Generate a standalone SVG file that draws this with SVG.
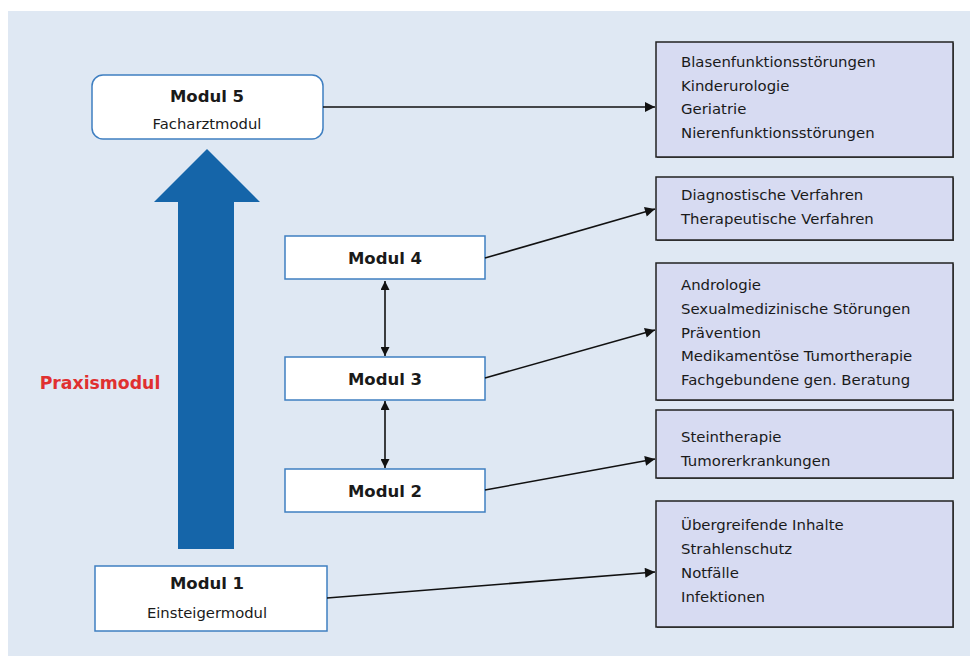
<svg xmlns="http://www.w3.org/2000/svg" width="970" height="656" viewBox="0 0 970 656">
<style>
.bg{fill:#dfe8f3}
.mod{fill:#ffffff;stroke:#3f7fc1;stroke-width:1.5}
.box{fill:#d7dbf2;stroke:#222;stroke-width:1.5}
.shadow{fill:#555}
.t{font-family:"DejaVu Sans",Verdana,sans-serif;fill:#1a1a1a}
.b{font-weight:bold;font-size:16.5px}
.s{font-size:14.8px}
.l{font-size:14.9px}
.con{stroke:#111;stroke-width:1.6;fill:none}
</style>
<defs>
<marker id="ah" viewBox="0 0 10 10" refX="10" refY="5" markerWidth="14" markerHeight="9" markerUnits="userSpaceOnUse" orient="auto-start-reverse">
<path d="M0,0 L10,5 L0,10 z" fill="#111"/>
</marker>
<marker id="ah2" viewBox="0 0 10 10" refX="10" refY="5" markerWidth="17" markerHeight="10" markerUnits="userSpaceOnUse" orient="auto-start-reverse">
<path d="M0,0 L10,5 L0,10 z" fill="#111"/>
</marker>
</defs>
<rect class="bg" x="8" y="11" width="962" height="645"/>
<g id="praxis-arrow">
<polygon points="178,549 234,549 234,202 260,202 207,149 154,202 178,202" fill="#1565a9"/>
<text class="t" x="100" y="389" text-anchor="middle" font-size="17.3" font-weight="bold" style="fill:#e03030">Praxismodul</text>
</g>
<g id="modul5">
<rect class="mod" x="92" y="75" width="231" height="64" rx="11"/>
<text class="t b" x="207" y="102" text-anchor="middle">Modul 5</text>
<text class="t s" x="207" y="129" text-anchor="middle">Facharztmodul</text>
</g>
<g id="modul4">
<rect class="mod" x="285" y="236" width="200" height="43"/>
<text class="t b" x="385" y="264" text-anchor="middle">Modul 4</text>
</g>
<g id="modul3">
<rect class="mod" x="285" y="357" width="200" height="43"/>
<text class="t b" x="385" y="385" text-anchor="middle">Modul 3</text>
</g>
<g id="modul2">
<rect class="mod" x="285" y="469" width="200" height="43"/>
<text class="t b" x="385" y="497" text-anchor="middle">Modul 2</text>
</g>
<g id="modul1">
<rect class="mod" x="95" y="566" width="232" height="65"/>
<text class="t b" x="207" y="589" text-anchor="middle">Modul 1</text>
<text class="t s" x="207" y="618" text-anchor="middle">Einsteigermodul</text>
</g>
<g id="box-m5">
<rect class="shadow" x="657" y="43" width="297" height="115"/>
<rect class="box" x="656" y="42" width="297" height="115"/>
<text class="t l" x="681" y="67">Blasenfunktionsstörungen</text>
<text class="t l" x="681" y="91">Kinderurologie</text>
<text class="t l" x="681" y="114">Geriatrie</text>
<text class="t l" x="681" y="138">Nierenfunktionsstörungen</text>
</g>
<g id="box-m4">
<rect class="shadow" x="657" y="178" width="297" height="63"/>
<rect class="box" x="656" y="177" width="297" height="63"/>
<text class="t l" x="681" y="200">Diagnostische Verfahren</text>
<text class="t l" x="681" y="224">Therapeutische Verfahren</text>
</g>
<g id="box-m3">
<rect class="shadow" x="657" y="264" width="297" height="137"/>
<rect class="box" x="656" y="263" width="297" height="137"/>
<text class="t l" x="681" y="290">Andrologie</text>
<text class="t l" x="681" y="314">Sexualmedizinische Störungen</text>
<text class="t l" x="681" y="338">Prävention</text>
<text class="t l" x="681" y="361">Medikamentöse Tumortherapie</text>
<text class="t l" x="681" y="385">Fachgebundene gen. Beratung</text>
</g>
<g id="box-m2">
<rect class="shadow" x="657" y="411" width="297" height="68"/>
<rect class="box" x="656" y="410" width="297" height="68"/>
<text class="t l" x="681" y="442">Steintherapie</text>
<text class="t l" x="681" y="466">Tumorerkrankungen</text>
</g>
<g id="box-m1">
<rect class="shadow" x="657" y="502" width="297" height="126"/>
<rect class="box" x="656" y="501" width="297" height="126"/>
<text class="t l" x="681" y="530">Übergreifende Inhalte</text>
<text class="t l" x="681" y="554">Strahlenschutz</text>
<text class="t l" x="681" y="578">Notfälle</text>
<text class="t l" x="681" y="602">Infektionen</text>
</g>
<g id="connectors">
<line class="con" x1="323" y1="107" x2="655" y2="107" marker-end="url(#ah2)"/>
<line class="con" x1="485" y1="258" x2="655" y2="209" marker-end="url(#ah2)"/>
<line class="con" x1="485" y1="378" x2="655" y2="330" marker-end="url(#ah2)"/>
<line class="con" x1="485" y1="490" x2="655" y2="459" marker-end="url(#ah2)"/>
<line class="con" x1="327" y1="598" x2="655" y2="572" marker-end="url(#ah2)"/>
<line class="con" x1="385" y1="281" x2="385" y2="356" marker-start="url(#ah)" marker-end="url(#ah)"/>
<line class="con" x1="385" y1="401" x2="385" y2="468" marker-start="url(#ah)" marker-end="url(#ah)"/>
</g>
</svg>
